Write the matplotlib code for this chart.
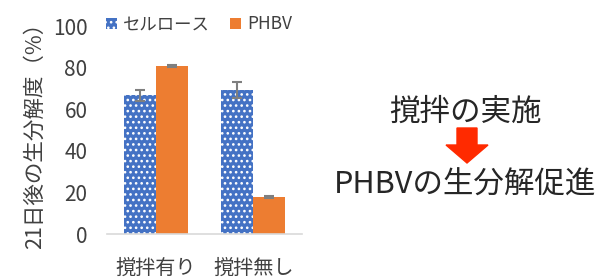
import matplotlib.pyplot as plt
import matplotlib.patches as mpatches
import numpy as np

plt.rcParams['font.family'] = ['Noto Sans CJK JP', 'DejaVu Sans']
plt.rcParams['hatch.linewidth'] = 1.1

categories = ['撹拌有り', '撹拌無し']
series_names = ['セルロース', 'PHBV']
cellulose = [66.8, 69.2]
cellulose_err = [2.6, 3.8]
phbv = [81.0, 17.8]
phbv_err = [0.5, 0.6]

blue = '#4472C4'
orange = '#ED7D31'
txt = '#404040'

fig = plt.figure(figsize=(6.13, 2.78), dpi=100)
ax = fig.add_axes([0.1746, 0.158, 0.318, 0.748])

x = np.arange(len(categories))
w = 0.33
b1 = ax.bar(x - w/2, cellulose, w, color=blue, edgecolor='white',
            linewidth=0, hatch='...', label=series_names[0])
b2 = ax.bar(x + w/2, phbv, w, color=orange, linewidth=0,
            label=series_names[1])
ax.errorbar(x - w/2, cellulose, yerr=cellulose_err, fmt='none',
            ecolor='#7f7f7f', elinewidth=1.5, capsize=3.6, capthick=1.5)
ax.errorbar(x + w/2, phbv, yerr=phbv_err, fmt='none',
            ecolor='#7f7f7f', elinewidth=1.5, capsize=3.6, capthick=1.5)

ax.set_xlim(-0.5, 1.5)
ax.set_ylim(0, 100)
ax.set_yticks(np.arange(0, 101, 20))
ax.set_xticks(x)
ax.set_xticklabels(categories)
for s in ['left', 'right', 'top']:
    ax.spines[s].set_visible(False)
ax.spines['bottom'].set_color('#d9d9d9')
ax.spines['bottom'].set_linewidth(1.2)
ax.tick_params(axis='y', length=0, labelsize=15, colors=txt, pad=14)
ax.tick_params(axis='x', length=0, labelsize=14.5, colors=txt, pad=17)
ax.set_ylabel('21日後の生分解度（%）', fontsize=15.5, color=txt, labelpad=5)

leg = ax.legend(loc='center left', bbox_to_anchor=(0.162, 0.912),
                bbox_transform=fig.transFigure, ncol=2, frameon=False,
                fontsize=12.5, handlelength=0.6, handleheight=0.6,
                handletextpad=0.35, columnspacing=1.2, borderaxespad=0)
for t in leg.get_texts():
    t.set_color(txt)

fig.text(0.759, 0.595, '撹拌の実施', fontsize=22, color='#262626',
         ha='center', va='center')
fig.text(0.759, 0.335, 'PHBVの生分解促進', fontsize=22, color='#262626',
         ha='center', va='center')
arrow = mpatches.Polygon([[4.57, 1.50], [4.77, 1.50], [4.77, 1.33],
                          [4.88, 1.33], [4.67, 1.15], [4.46, 1.33],
                          [4.57, 1.33]], closed=True, color='#FF2A00',
                         transform=fig.dpi_scale_trans)
fig.add_artist(arrow)

plt.savefig('out.png', dpi=100)
